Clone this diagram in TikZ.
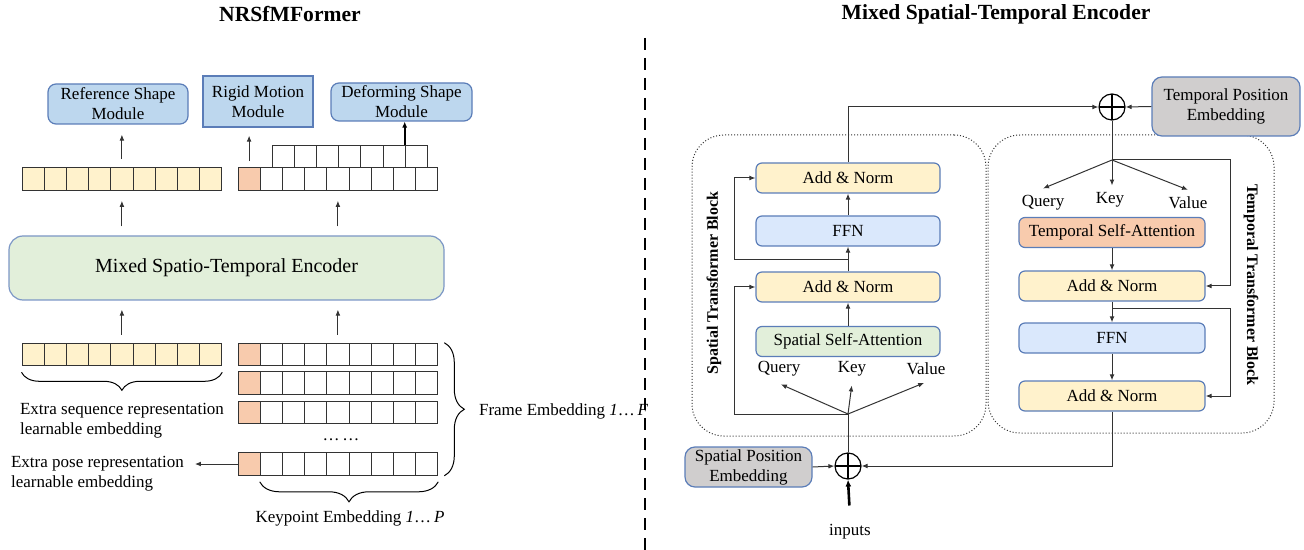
\documentclass[tikz,border=0pt]{standalone}
\usepackage{fontspec}
\setmainfont{Liberation Serif}
\usetikzlibrary{arrows.meta,decorations.pathreplacing,positioning}

\definecolor{cellyellow}{HTML}{FFF2CC}
\definecolor{cellpink}{HTML}{F8CBAD}
\definecolor{modblue}{HTML}{BDD7EE}
\definecolor{ffnblue}{HTML}{DAE8FC}
\definecolor{encgreen}{HTML}{E2EFDA}
\definecolor{embgray}{HTML}{D0CECE}
\definecolor{edgeblue}{HTML}{5B7DB8}
\definecolor{linegray}{HTML}{333333}

\tikzset{
  txt/.style={font=\fontsize{8.5}{10}\selectfont},
  cell/.style={rectangle, draw=black!80, line width=0.5pt, minimum width=11.1pt, minimum height=11.3pt, inner sep=0pt},
  module/.style={rectangle, rounded corners=4pt, draw=edgeblue, line width=0.6pt, fill=modblue, align=center, inner sep=1pt, txt},
  layer/.style={rectangle, rounded corners=3pt, draw=edgeblue, line width=0.6pt, minimum width=92pt, minimum height=15pt, inner sep=0pt, txt},
  posemb/.style={rectangle, rounded corners=5pt, draw=edgeblue, line width=0.6pt, fill=embgray, align=center, inner sep=1pt, txt},
  tblock/.style={rectangle, rounded corners=16pt, draw=black!80, densely dotted, line width=0.5pt, inner sep=0pt},
  oplus/.style={circle, draw=black, line width=0.6pt, minimum size=13pt, inner sep=0pt,
    path picture={\draw[line width=0.6pt] (path picture bounding box.north) -- (path picture bounding box.south)
      (path picture bounding box.west) -- (path picture bounding box.east);}},
  arr/.style={-{Latex[length=3pt,width=2.4pt]}, draw=linegray, line width=0.5pt},
  wire/.style={draw=linegray, line width=0.5pt},
  brace/.style={decorate, decoration={brace, amplitude=9pt}, line width=0.5pt},
  title/.style={font=\fontsize{10.8}{13}\selectfont\bfseries}
}

\begin{document}
\begin{tikzpicture}[x=0.5pt, y=-0.5pt]
\useasboundingbox (0,0) rectangle (1304,550);

% titles and divider
\node[title] (ltitle) at (290,14) {NRSfMFormer};
\node[title] (rtitle) at (996,14) {Mixed Spatial-Temporal Encoder};
\coordinate (divtop) at (645,38);
\coordinate (divbot) at (645,550);
\draw[line width=1.2pt, dash pattern=on 6pt off 4pt] (divtop) -- (divbot);

% ---------- NRSfMFormer ----------
\node[module, minimum width=70pt, minimum height=20pt] (ref) at (118,104) {Reference Shape\\Module};
\node[module, rounded corners=0pt, minimum width=55pt, minimum height=25.5pt] (rigid) at (258,101.5) {Rigid Motion\\Module};
\node[module, minimum width=70.5pt, minimum height=19pt] (def) at (401.5,102) {Deforming Shape\\Module};

% token rows
\foreach \i in {0,...,8} {
  \node[cell, fill=cellyellow] (ya\i) at ({33.1+22.2*\i},179) {};
  \node[cell, fill=cellyellow] (yb\i) at ({33.1+22.2*\i},354.5) {};
}
\foreach \r/\y in {a/179, b/354.5, c/383, d/412.5, e/464} {
  \node[cell, fill=cellpink] (k\r0) at (249.1,\y) {};
  \foreach \i in {1,...,8}
    \node[cell] (k\r\i) at ({249.1+22.2*\i},\y) {};
}
\foreach \i in {0,...,6}
  \node[cell] (u\i) at ({283.1+22.2*\i},156.5) {};

\node[txt] (dots) at (341,440) {…\,…};

\node[rectangle, rounded corners=7pt, draw=edgeblue!80, line width=0.6pt, fill=encgreen,
  minimum width=217.5pt, minimum height=32pt, font=\fontsize{10}{12}\selectfont] (enc) at (226.5,268) {Mixed Spatio-Temporal Encoder};

% arrows
\draw[arr, shorten <=4pt, shorten >=5pt] (ya4.north) -- (ya4.north |- ref.south);
\draw[arr, shorten <=3pt, shorten >=4pt] (ka0.north) -- (ka0.north |- rigid.south);
\draw[-{Latex[length=3pt,width=2.6pt]}, line width=0.8pt] (u6.north west) -- (u6.north west |- def.south);
\draw[arr, shorten <=4.5pt, shorten >=5pt] (enc.north -| ya4) -- (ya4.south);
\draw[arr, shorten <=4.5pt, shorten >=5pt] (enc.north -| ka4) -- (ka4.south);
\draw[arr, shorten <=4pt, shorten >=4.5pt] (yb4.north) -- (yb4.north |- enc.south);
\draw[arr, shorten <=4pt, shorten >=4.5pt] (kb4.north) -- (kb4.north |- enc.south);

% braces and labels
\draw[brace] ([yshift=-3pt]yb8.south east) -- ([yshift=-3pt]yb0.south west);
\node[txt, align=left, anchor=north west] (seqlbl) at (13,396) {Extra sequence representation\\learnable embedding};
\draw[brace, decoration={amplitude=10pt}] ([xshift=3pt]kb8.north east) -- ([xshift=3pt]ke8.south east);
\node[txt, anchor=west] (framelbl) at (472,411) {Frame Embedding \textit{1}…\,\textit{F}};
\draw[brace, decoration={amplitude=10pt}] ([yshift=-3pt]ke8.south east) -- ([yshift=-3pt]ke1.south west);
\node[txt] (keylbl) at (350,518) {Keypoint Embedding \textit{1}…\,\textit{P}};
\node[txt, align=left, anchor=north west] (poselbl) at (4,449) {Extra pose representation\\learnable embedding};
\draw[arr, shorten >=2pt] (ke0.west) -- (poselbl.east |- ke0.west);

% ---------- Mixed Spatial-Temporal Encoder ----------
\node[tblock, minimum width=147pt, minimum height=150.5pt] (sblock) at (839,285.5) {};
\node[tblock, minimum width=143pt, minimum height=149pt] (tblk) at (1131,284) {};
\node[rotate=90, font=\fontsize{8}{10}\selectfont\bfseries] (slabel) at (714,283) {Spatial Transformer Block};
\node[rotate=-90, font=\fontsize{8}{10}\selectfont\bfseries] (tlabel) at (1251,285) {Temporal Transformer Block};

% spatial branch
\node[layer, fill=cellyellow] (san1) at (848,178) {Add \& Norm};
\node[layer, fill=ffnblue] (sffn) at (848,231) {FFN};
\node[layer, fill=cellyellow] (san2) at (848,287) {Add \& Norm};
\node[layer, fill=encgreen] (ssa) at (848,341.5) {Spatial Self-Attention};
\node[txt] (sq) at (779,369) {Query};
\node[txt] (sk) at (852,369) {Key};
\node[txt] (sv) at (926,369) {Value};
\coordinate (sbr) at (848,414);
\coordinate (sbr2) at (848,260);

\node[oplus] (splus) at (848,466) {};
\node[posemb, minimum width=63.5pt, minimum height=20pt] (spe) at (748.5,467) {Spatial Position\\Embedding};
\node[txt] (inputs) at (850,532) {inputs};
\draw[-{Latex[length=3.5pt,width=3pt]}, line width=1.3pt, shorten <=6pt] (inputs.north) -- (splus.south);
\draw[arr] (spe.east) -- (splus.west);

\draw[wire] (splus.north) -- (sbr);
\draw[arr, shorten >=1pt] (sbr) -- (sq.south);
\draw[arr, shorten >=1pt] (sbr) -- (sk.south);
\draw[arr, shorten >=1pt] (sbr) -- (sv.south);
\draw[arr] (sbr) -- ++(-114,0) |- (san2.west);
\draw[arr] (ssa) -- (san2);
\draw[arr] (san2) -- (sffn);
\draw[arr] (sbr2) -- ++(-114,0) |- (san1.west);
\draw[arr] (sffn) -- (san1);

% temporal branch
\node[oplus] (tplus) at (1112,107) {};
\node[posemb, minimum width=74pt, minimum height=29.5pt] (tpe) at (1226,106.5) {Temporal Position\\Embedding};
\draw[arr] (san1.north) |- (tplus.west);
\draw[arr] (tpe.west) -- (tplus.east);

\node[txt] (tq) at (1043,203) {Query};
\node[txt] (tk) at (1110,200) {Key};
\node[txt] (tv) at (1188,203) {Value};
\node[layer, fill=cellpink, minimum width=93pt] (tsa) at (1112,232.5) {Temporal Self-Attention};
\node[layer, fill=cellyellow, minimum width=93pt] (tan1) at (1112,286) {Add \& Norm};
\node[layer, fill=ffnblue, minimum width=93pt] (tffn) at (1112,338) {FFN};
\node[layer, fill=cellyellow, minimum width=93pt] (tan2) at (1112,396) {Add \& Norm};
\coordinate (tbr) at (1112,160);
\coordinate (tbr2) at (1112,309);

\draw[wire] (tplus.south) -- (tbr);
\draw[arr] (tbr) -- (tq.north);
\draw[arr] (tbr) -- (tk.north -| tbr);
\draw[arr] (tbr) -- (tv.north);
\draw[arr] (tbr) -- ++(118,0) |- (tan1.east);
\draw[arr] (tsa) -- (tan1);
\draw[arr] (tan1) -- (tffn);
\draw[arr] (tbr2) -- ++(118,0) |- (tan2.east);
\draw[arr] (tffn) -- (tan2);
\draw[arr] (tan2.south) |- (splus.east);
\end{tikzpicture}
\end{document}
